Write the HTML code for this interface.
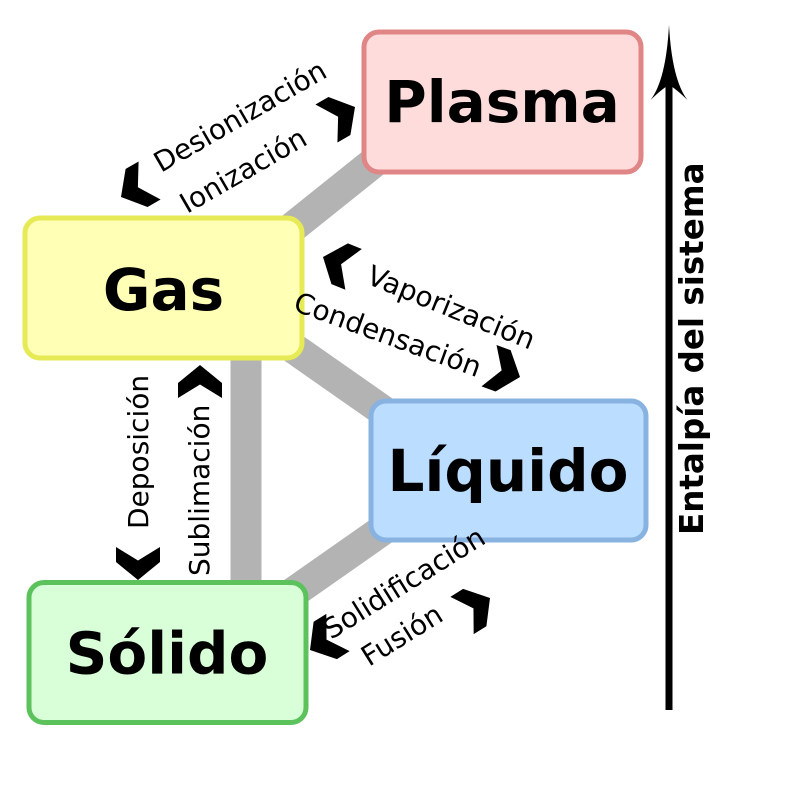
<!DOCTYPE html>
<html>
<head>
<meta charset="utf-8">
<style>
  html, body { margin: 0; padding: 0; background: #ffffff; }
  svg { display: block; }
  .lbl { font-family: "DejaVu Sans", "Liberation Sans", sans-serif; font-size: 28px; fill: #000; }
  .big { font-family: "DejaVu Sans", "Liberation Sans", sans-serif; font-size: 58px; font-weight: bold; fill: #000; }
  .axis { font-family: "DejaVu Sans", "Liberation Sans", sans-serif; font-size: 32.5px; font-weight: bold; fill: #000; }
</style>
</head>
<body>
<svg width="800" height="794" viewBox="0 0 800 794" xmlns="http://www.w3.org/2000/svg">
  <defs>
    <path id="chev" d="M0,0 L-22,-18 L-22,-33 L0,-19.5 L22,-33 L22,-18 Z" fill="#000"/>
  </defs>

  <!-- gray connectors -->
  <g stroke="#b3b3b3" stroke-width="31" fill="none">
    <line x1="250" y1="261.4" x2="420" y2="125.3"/>
    <line x1="250" y1="317.7" x2="420" y2="436.7"/>
    <line x1="250" y1="622.9" x2="420" y2="503.8"/>
    <line x1="246" y1="300" x2="246" y2="640"/>
  </g>

  <!-- boxes -->
  <rect x="364" y="32" width="277" height="140" rx="15" ry="15" fill="#ffdcdc" stroke="#e08686" stroke-width="5"/>
  <rect x="25" y="218" width="277" height="140" rx="15" ry="15" fill="#ffffb5" stroke="#e6ea55" stroke-width="5"/>
  <rect x="371" y="401" width="275" height="139" rx="15" ry="15" fill="#bbddff" stroke="#88b2e0" stroke-width="5"/>
  <rect x="29" y="582.5" width="277" height="140" rx="15" ry="15" fill="#d9ffd9" stroke="#5cc25c" stroke-width="5"/>

  <text class="big" x="502" y="122" text-anchor="middle">Plasma</text>
  <text class="big" x="163.5" y="310" text-anchor="middle">Gas</text>
  <text class="big" x="508" y="491" text-anchor="middle">Líquido</text>
  <text class="big" x="167" y="673.5" text-anchor="middle">Sólido</text>

  <!-- chevrons -->
  <use href="#chev" transform="translate(138,580) rotate(0)"/>
  <use href="#chev" transform="translate(200,365) rotate(180)"/>
  <use href="#chev" transform="translate(121,197) rotate(60)"/>
  <use href="#chev" transform="translate(355,107) rotate(-120)"/>
  <use href="#chev" transform="translate(323,257) rotate(112)"/>
  <use href="#chev" transform="translate(520,377) rotate(-70)"/>
  <use href="#chev" transform="translate(310,650) rotate(58)"/>
  <use href="#chev" transform="translate(490,598) rotate(-122)"/>

  <!-- transition labels -->
  <text class="lbl" transform="translate(161,173) rotate(-30)">Desionización</text>
  <text class="lbl" transform="translate(187,214) rotate(-30)">Ionización</text>
  <text class="lbl" transform="translate(365,283) rotate(22)">Vaporización</text>
  <text class="lbl" transform="translate(292,310) rotate(20)">Condensación</text>
  <text class="lbl" transform="translate(148,529) rotate(-90)">Deposición</text>
  <text class="lbl" transform="translate(209,576) rotate(-90)">Sublimación</text>
  <text class="lbl" transform="translate(331,640) rotate(-32)">Solidificación</text>
  <text class="lbl" transform="translate(369,667) rotate(-32)">Fusión</text>

  <!-- enthalpy axis -->
  <line x1="669" y1="84" x2="669" y2="710" stroke="#000" stroke-width="7"/>
  <path d="M669,25 Q672,80 687.5,100 Q675,88 669,85 Q663,88 650.5,100 Q666,80 669,25 Z" fill="#000"/>
  <text class="axis" transform="translate(703,535) rotate(-90)">Entalpía del sistema</text>
</svg>
</body>
</html>
